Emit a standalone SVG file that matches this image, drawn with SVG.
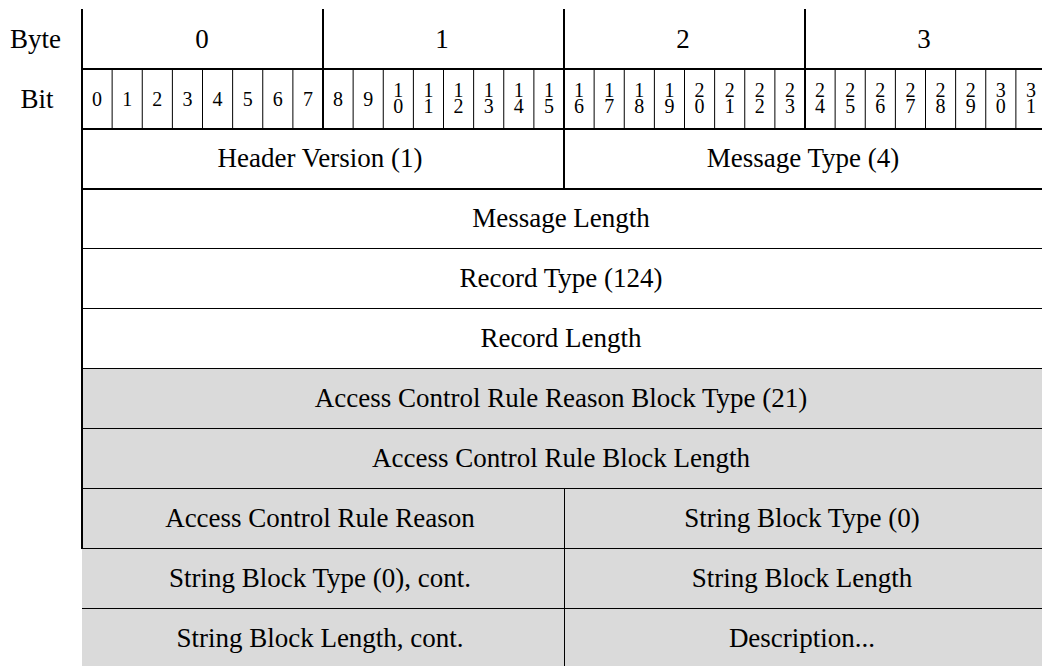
<svg xmlns="http://www.w3.org/2000/svg" width="1042" height="666" viewBox="0 0 1042 666">
<style>
text{font-family:'Liberation Serif','Times New Roman',serif;fill:#000;}
.lbl{font-size:27px;text-anchor:middle;}
.bit{font-size:20px;text-anchor:middle;}
.thick{stroke:#000;stroke-width:2;fill:none;}
.thin{stroke:#000;stroke-width:1;fill:none;}
.white{fill:#fff;}
.gray{fill:#dadada;}
</style>
<rect x="0" y="0" width="1042" height="666" fill="#fff"/>
<g id="header-labels">
<text class="lbl" x="35.5" y="48">Byte</text>
<text class="lbl" x="37" y="108">Bit</text>
</g>
<g id="byte-row">
<text class="lbl" x="202" y="48">0</text>
<text class="lbl" x="442" y="48">1</text>
<text class="lbl" x="683" y="48">2</text>
<text class="lbl" x="924" y="48">3</text>
</g>
<g id="bit-row">
<text class="bit" x="97.06" y="106">0</text>
<text class="bit" x="127.19" y="106">1</text>
<text class="bit" x="157.31" y="106">2</text>
<text class="bit" x="187.44" y="106">3</text>
<text class="bit" x="217.56" y="106">4</text>
<text class="bit" x="247.69" y="106">5</text>
<text class="bit" x="277.81" y="106">6</text>
<text class="bit" x="307.94" y="106">7</text>
<text class="bit" x="338.06" y="106">8</text>
<text class="bit" x="368.19" y="106">9</text>
<text class="bit" x="398.31" y="97">1</text><text class="bit" x="398.31" y="113">0</text>
<text class="bit" x="428.44" y="97">1</text><text class="bit" x="428.44" y="113">1</text>
<text class="bit" x="458.56" y="97">1</text><text class="bit" x="458.56" y="113">2</text>
<text class="bit" x="488.69" y="97">1</text><text class="bit" x="488.69" y="113">3</text>
<text class="bit" x="518.81" y="97">1</text><text class="bit" x="518.81" y="113">4</text>
<text class="bit" x="548.94" y="97">1</text><text class="bit" x="548.94" y="113">5</text>
<text class="bit" x="579.06" y="97">1</text><text class="bit" x="579.06" y="113">6</text>
<text class="bit" x="609.19" y="97">1</text><text class="bit" x="609.19" y="113">7</text>
<text class="bit" x="639.31" y="97">1</text><text class="bit" x="639.31" y="113">8</text>
<text class="bit" x="669.44" y="97">1</text><text class="bit" x="669.44" y="113">9</text>
<text class="bit" x="699.56" y="97">2</text><text class="bit" x="699.56" y="113">0</text>
<text class="bit" x="729.69" y="97">2</text><text class="bit" x="729.69" y="113">1</text>
<text class="bit" x="759.81" y="97">2</text><text class="bit" x="759.81" y="113">2</text>
<text class="bit" x="789.94" y="97">2</text><text class="bit" x="789.94" y="113">3</text>
<text class="bit" x="820.06" y="97">2</text><text class="bit" x="820.06" y="113">4</text>
<text class="bit" x="850.19" y="97">2</text><text class="bit" x="850.19" y="113">5</text>
<text class="bit" x="880.31" y="97">2</text><text class="bit" x="880.31" y="113">6</text>
<text class="bit" x="910.44" y="97">2</text><text class="bit" x="910.44" y="113">7</text>
<text class="bit" x="940.56" y="97">2</text><text class="bit" x="940.56" y="113">8</text>
<text class="bit" x="970.69" y="97">2</text><text class="bit" x="970.69" y="113">9</text>
<text class="bit" x="1000.81" y="97">3</text><text class="bit" x="1000.81" y="113">0</text>
<text class="bit" x="1030.94" y="97">3</text><text class="bit" x="1030.94" y="113">1</text>
</g>
<g id="header-version">
<rect class="white" x="82" y="129" width="482" height="60"/>
<text class="lbl" x="320" y="167">Header Version (1)</text>
</g>
<g id="message-type">
<rect class="white" x="564" y="129" width="478" height="60"/>
<text class="lbl" x="803" y="167">Message Type (4)</text>
</g>
<g id="message-length">
<rect class="white" x="82" y="189" width="960" height="60"/>
<text class="lbl" x="561" y="227">Message Length</text>
</g>
<g id="record-type">
<rect class="white" x="82" y="249" width="960" height="60"/>
<text class="lbl" x="561" y="287">Record Type (124)</text>
</g>
<g id="record-length">
<rect class="white" x="82" y="309" width="960" height="60"/>
<text class="lbl" x="561" y="347">Record Length</text>
</g>
<g id="acr-reason-block-type">
<rect class="gray" x="82" y="369" width="960" height="60"/>
<text class="lbl" x="561" y="407">Access Control Rule Reason Block Type (21)</text>
</g>
<g id="acr-block-length">
<rect class="gray" x="82" y="429" width="960" height="60"/>
<text class="lbl" x="561" y="467">Access Control Rule Block Length</text>
</g>
<g id="acr-reason">
<rect class="gray" x="82" y="489" width="482" height="60"/>
<text class="lbl" x="320" y="527">Access Control Rule Reason</text>
</g>
<g id="string-block-type">
<rect class="gray" x="564" y="489" width="478" height="60"/>
<text class="lbl" x="802" y="527">String Block Type (0)</text>
</g>
<g id="string-block-type-cont">
<rect class="gray" x="82" y="549" width="482" height="60"/>
<text class="lbl" x="320" y="587">String Block Type (0), cont.</text>
</g>
<g id="string-block-length">
<rect class="gray" x="564" y="549" width="478" height="60"/>
<text class="lbl" x="802" y="587">String Block Length</text>
</g>
<g id="string-block-length-cont">
<rect class="gray" x="82" y="609" width="482" height="57"/>
<text class="lbl" x="320" y="647">String Block Length, cont.</text>
</g>
<g id="description">
<rect class="gray" x="564" y="609" width="478" height="57"/>
<text class="lbl" x="802" y="647">Description...</text>
</g>
<g id="connectors">
<path class="thin" d="M112.13 69V129M142.25 69V129M172.38 69V129M202.5 69V129M232.63 69V129M262.75 69V129M292.88 69V129M353.13 69V129M383.25 69V129M413.38 69V129M443.5 69V129M473.63 69V129M503.75 69V129M533.88 69V129M594.13 69V129M624.25 69V129M654.38 69V129M684.5 69V129M714.63 69V129M744.75 69V129M774.88 69V129M835.13 69V129M865.25 69V129M895.38 69V129M925.5 69V129M955.63 69V129M985.75 69V129M1015.88 69V129"/>
<path class="thin" d="M82 248.5H1042M82 308.5H1042M82 368.5H1042M82 428.5H1042M82 488.5H1042M82 548.5H1042M82 608.5H1042M564.5 488.5V666"/>
<path class="thick" d="M82 9V549M323 9V129M564 9V189M805 9V129M82 69H1042M82 129H1042M82 189H1042"/>
</g>
</svg>
